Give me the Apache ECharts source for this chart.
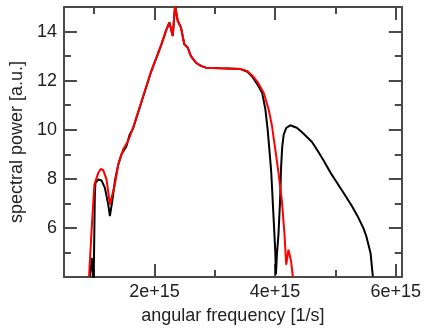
<!DOCTYPE html>
<html>
<head>
<meta charset="utf-8">
<script src="https://cdn.jsdelivr.net/npm/echarts@6/dist/echarts.min.js"></script>
<style>
html,body{margin:0;padding:0;background:#fff;}
#c{width:424px;height:330px;}
</style>
</head>
<body>
<div id="c"></div>
<script>
// angular frequency in units of 1e15 1/s
var redFreq = [0.916,0.961,1.005,1.071,1.11,1.153,1.207,1.262,1.289,1.344,1.4,1.482,1.564,1.646,1.947,2.112,2.194,2.248,2.304,2.342,2.386,2.441,2.495,2.551,2.605,2.688,2.77,2.852,3.099,3.428,3.543,3.625,3.707,3.811,3.893,3.949,4.003,4.057,4.113,4.156,4.184,4.222,4.238,4.266,4.294];
var redPower = [4.0,6.0,7.77,8.25,8.4,8.35,7.97,6.95,6.88,7.77,8.58,9.2,9.54,10.08,12.38,13.45,14.05,14.37,13.82,15.05,14.44,14.16,13.48,13.35,13.0,12.73,12.6,12.53,12.5,12.47,12.38,12.2,11.95,11.51,10.83,10.15,9.2,8.24,7.09,5.73,4.5,5.11,5.18,4.64,4.0];

var blackFreq = [0.933,0.961,0.977,0.993,1.003,1.012,1.022,1.071,1.125,1.179,1.235,1.262,1.301,1.344,1.4,1.454,1.536,1.59,1.646,1.947,2.112,2.194,2.248,2.304,2.342,2.386,2.441,2.495,2.551,2.605,2.688,2.77,2.852,3.099,3.428,3.543,3.625,3.707,3.785,3.839,3.877,3.91,3.937,3.975,4.003,4.014,4.03,4.056,4.084,4.1,4.118,4.143,4.184,4.25,4.36,4.447,4.612,4.716,4.804,4.936,5.051,5.155,5.27,5.373,5.462,5.512,5.582,5.62];
var blackPower = [4.0,4.78,4.85,3.8,3.8,7.3,7.84,7.97,7.93,7.63,6.95,6.48,7.09,7.9,8.58,9.0,9.33,9.8,10.05,12.38,13.45,14.05,14.37,13.82,15.05,14.44,14.16,13.48,13.35,13.0,12.73,12.6,12.53,12.5,12.47,12.36,12.15,11.85,11.51,10.83,10.0,9.06,8.24,6.41,5.05,4.1,4.91,5.73,7.2,8.5,9.3,9.8,10.07,10.18,10.08,9.9,9.5,9.1,8.75,8.18,7.75,7.35,6.9,6.45,6.0,5.66,4.98,4.03];

var xMajorTicks = [2,4,6];
var xMinorTicks = [1,3,5];
var yMajorTicks = [6,8,10,12,14];
var yMinorTicks = [5,7,9,11,13];
var xTitle = 'angular frequency [1/s]';
var yTitle = 'spectral power [a.u.]';

var frameColor = '#4a4a4a';
var textColor = '#222';
var font = 'Liberation Sans, Arial, Helvetica, sans-serif';

function pairs(xs, ys){ return xs.map(function(x,i){ return [x, ys[i]]; }); }

function xAx(pos, ticks, len, showLine, labels){
  return {
    type:'value', position:pos, min:0.5, max:6.1,
    axisLine:{show:showLine, onZero:false, lineStyle:{color:frameColor, width:2}},
    axisTick:{show:true, inside:true, length:len, customValues:ticks, lineStyle:{color:frameColor, width:2}},
    axisLabel:{show:labels, customValues:ticks, margin:6, color:textColor, fontSize:18, fontFamily:font,
      formatter:function(v){ return v + 'e+15'; }},
    splitLine:{show:false},
    name: labels ? xTitle : '', nameLocation:'middle', nameGap:30,
    nameTextStyle:{color:textColor, fontSize:18, fontFamily:font}
  };
}
function yAx(pos, ticks, len, showLine, labels){
  return {
    type:'value', position:pos, min:4, max:15,
    axisLine:{show:showLine, onZero:false, lineStyle:{color:frameColor, width:2}},
    axisTick:{show:true, inside:true, length:len, customValues:ticks, lineStyle:{color:frameColor, width:2}},
    axisLabel:{show:labels, customValues:ticks, margin:7, color:textColor, fontSize:18, fontFamily:font},
    splitLine:{show:false},
    name: labels ? yTitle : '', nameLocation:'middle', nameGap:35, nameRotate:90,
    nameTextStyle:{color:textColor, fontSize:18, fontFamily:font}
  };
}

var chart = echarts.init(document.getElementById('c'), null, {renderer:'canvas'});
chart.setOption({
  animation:false,
  backgroundColor:'#fff',
  grid:{left:62, top:7, right:21, bottom:51, containLabel:false},
  xAxis:[
    xAx('bottom', xMajorTicks, 13, true, true),
    xAx('bottom', xMinorTicks, 7, false, false),
    xAx('top', xMajorTicks, 13, true, false),
    xAx('top', xMinorTicks, 7, false, false)
  ],
  yAxis:[
    yAx('left', yMajorTicks, 13, true, true),
    yAx('left', yMinorTicks, 7, false, false),
    yAx('right', yMajorTicks, 13, true, false),
    yAx('right', yMinorTicks, 7, false, false)
  ],
  series:[
    {type:'line', xAxisIndex:0, yAxisIndex:0, data:pairs(blackFreq, blackPower), showSymbol:false, symbol:'none', clip:true,
     lineStyle:{color:'#000', width:2}},
    {type:'line', xAxisIndex:0, yAxisIndex:0, data:pairs(redFreq, redPower), showSymbol:false, symbol:'none', clip:true,
     lineStyle:{color:'#ff0000', width:2}}
  ]
});
</script>
</body>
</html>
